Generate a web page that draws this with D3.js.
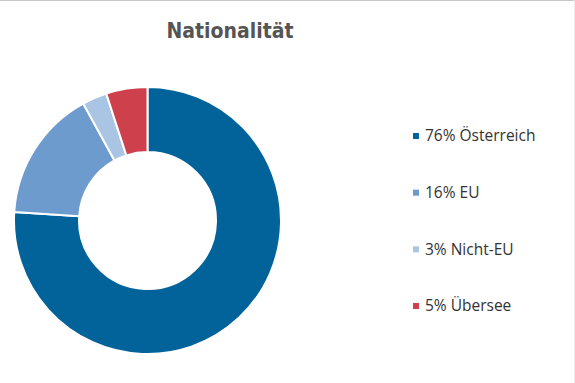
<!DOCTYPE html>
<html><head><meta charset="utf-8">
<script src="https://cdn.jsdelivr.net/npm/d3@7"></script>
<style>html,body{margin:0;padding:0;background:#fff;}</style>
</head><body>
<script>
const categories = ["Österreich", "EU", "Nicht-EU", "Übersee"];
const values = [76, 16, 3, 5];
const colors = ["#02629a", "#6e9bcd", "#a9c5e3", "#cf404d"];
const title = "Nationalität";

const W = 575, H = 383;
const svg = d3.select("body").append("svg").attr("width", W).attr("height", H);
svg.append("rect").attr("width", W).attr("height", H).attr("fill", "#fff");
svg.append("line").attr("x1", 0).attr("x2", W).attr("y1", 0.5).attr("y2", 0.5).attr("stroke", "#c8c8c8");
svg.append("line").attr("x1", W - 0.5).attr("x2", W - 0.5).attr("y1", 0).attr("y2", H).attr("stroke", "#ececec");

svg.append("text").attr("x", 230).attr("y", 38).attr("text-anchor", "middle")
  .attr("font-family", "'DejaVu Sans Condensed', 'DejaVu Sans', sans-serif").attr("font-weight", "bold")
  .attr("font-size", 21).attr("fill", "#555").text(title);

const pie = d3.pie().sort(null).value(d => d)(values);
const arc = d3.arc().innerRadius(68.5).outerRadius(133.5);
const g = svg.append("g").attr("transform", "translate(147.5,220.5)");
g.selectAll("path").data(pie).join("path").attr("d", arc)
  .attr("fill", (d, i) => colors[i]).attr("stroke", "#fff").attr("stroke-width", 2);

const y = d3.scalePoint().domain(categories).range([136, 306]);
const lg = svg.append("g");
categories.forEach((c, i) => {
  lg.append("rect").attr("x", 413).attr("y", y(c) - 3).attr("width", 6).attr("height", 6).attr("fill", colors[i]);
  lg.append("text").attr("x", 425).attr("y", y(c)).attr("dy", "0.35em")
    .attr("font-family", "'Open Sans', sans-serif").attr("font-size", 15.5).attr("fill", "#333")
    .text(values[i] + "% " + c);
});
</script>
</body></html>
